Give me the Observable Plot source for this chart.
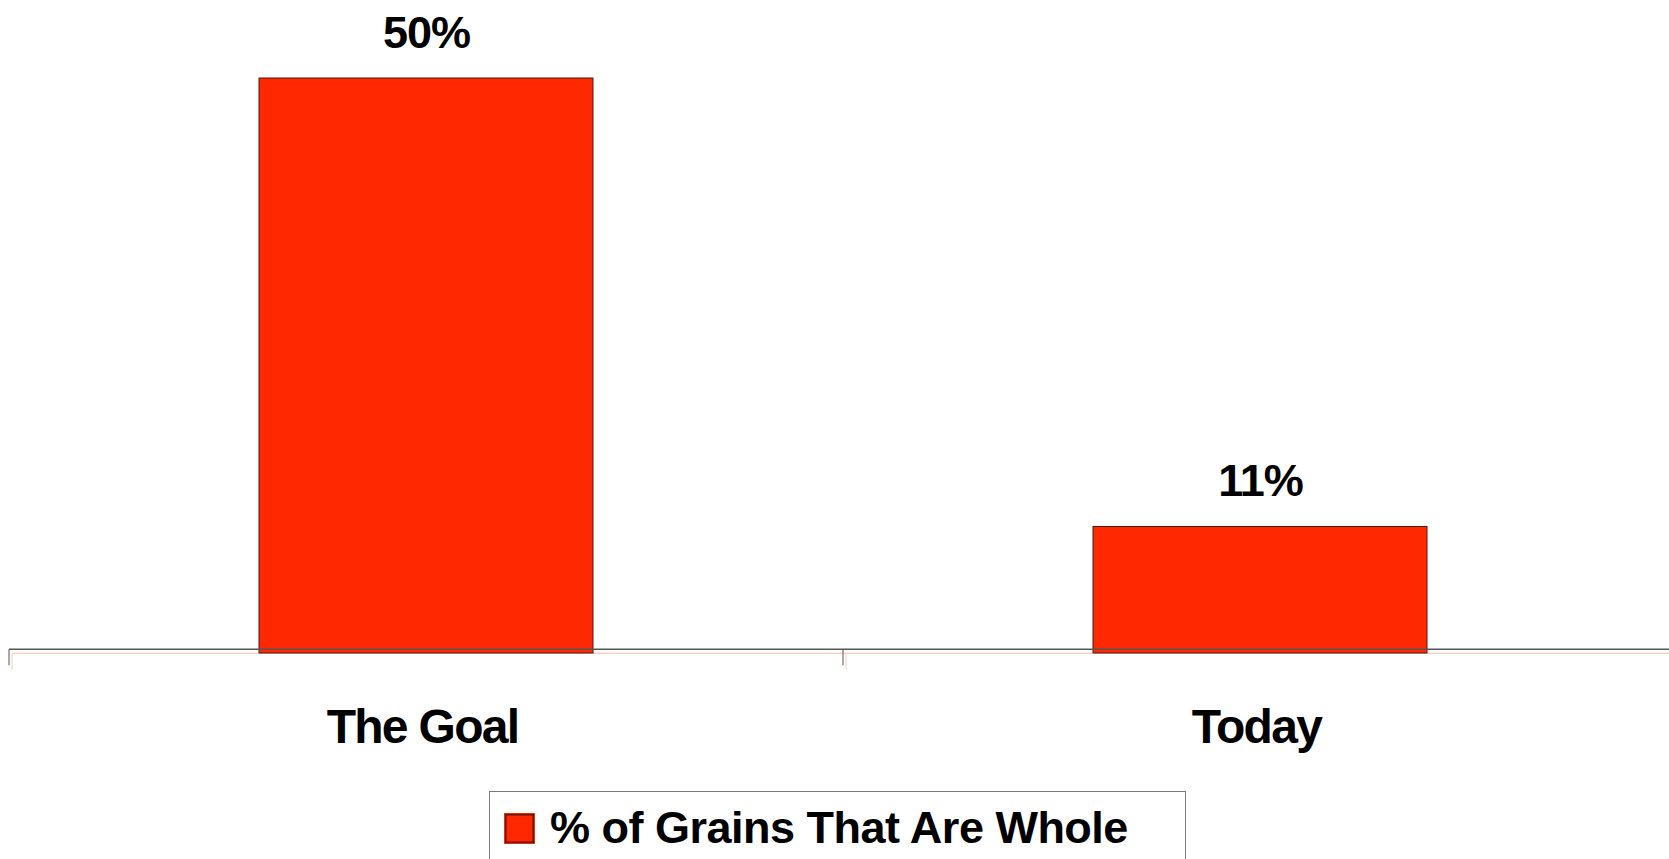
<!DOCTYPE html>
<html>
<head>
<meta charset="utf-8">
<script src="https://cdn.jsdelivr.net/npm/d3@7"></script>
<script src="https://cdn.jsdelivr.net/npm/@observablehq/plot@0.6"></script>
<style>
  html, body { margin: 0; padding: 0; background: #fff; overflow: hidden; }
  #wrap { position: relative; width: 1669px; height: 859px; font-family: "Liberation Sans", Arial, Helvetica, sans-serif; }
  #chart svg { font-family: "Liberation Sans", Arial, Helvetica, sans-serif; }
  #legend {
    position: absolute; left: 489px; top: 791px; width: 697px; height: 100px;
    border: 1.5px solid #7a7a7a; box-sizing: border-box; background: #fff;
  }
  #legend .swatch {
    position: absolute; left: 14px; top: 21px; width: 31px; height: 31px; box-sizing: border-box;
    background: #ff2800; border: 1.5px solid #ff2800; box-shadow: inset 0 0 0 1.5px #5a1a10;
  }
  #legend .label {
    position: absolute; left: 60px; top: 13px; font-size: 45px; line-height: 45px;
    font-weight: bold; letter-spacing: -0.5px; color: #000; white-space: nowrap;
  }
</style>
</head>
<body>
<div id="wrap">
  <div id="chart"></div>
  <div id="legend"><div class="swatch"></div><div class="label"></div></div>
</div>
<script>
// Share of grains eaten as whole grains
const categories = ["The Goal", "Today"];
const values = [50, 11];
const seriesName = "% of Grains That Are Whole";

const data = categories.map((c, i) => ({category: c, value: values[i]}));

const barFill = "#ff2800";
const barStroke = "#4a1a12";

// Category axis drawn as a line with ticks at the band boundaries;
// an offset pale copy gives the soft shadow under it.
function bandAxis({dx = 0, dy = 0, stroke = "#4d4d4d", strokeWidth = 1.5, tickLength = 16} = {}) {
  return (index, scales, values, dims) => {
    const x = scales.x;
    const y0 = scales.y(0);
    const bw = x.bandwidth ? x.bandwidth() : 0;
    const centers = categories.map(c => x(c) + bw / 2);
    const step = centers.length > 1 ? centers[1] - centers[0] : dims.width;
    const bounds = [centers[0] - step / 2, ...centers.map(c => c + step / 2)];
    const g = d3.create("svg:g").attr("transform", `translate(${dx},${dy})`);
    const yl = y0 - 3.7;
    g.append("line")
      .attr("x1", bounds[0]).attr("x2", dims.width + 20)
      .attr("y1", yl).attr("y2", yl)
      .attr("stroke", stroke).attr("stroke-width", strokeWidth);
    for (const b of bounds) {
      g.append("line")
        .attr("x1", b).attr("x2", b)
        .attr("y1", yl).attr("y2", yl + tickLength)
        .attr("stroke", stroke).attr("stroke-width", 1);
    }
    return g.node();
  };
}

const chart = Plot.plot({
  width: 1669,
  height: 791,
  marginTop: 78,
  marginBottom: 138,
  marginLeft: 0,
  marginRight: 0,
  style: {background: "transparent", overflow: "visible"},
  x: {domain: categories, range: [9, 1677], paddingInner: 0.6, paddingOuter: 0.3},
  y: {domain: [0, 50], axis: null},
  marks: [
    bandAxis({dx: 3, dy: 4, stroke: "#ffc9bd", strokeWidth: 1.2}),
    Plot.barY(data, {x: "category", y: "value", fill: barFill, stroke: barStroke, strokeWidth: 1}),
    bandAxis({stroke: "#555555", strokeWidth: 1.5}),
    Plot.text(data, {
      x: "category", y: "value", text: d => `${d.value}%`,
      lineAnchor: "bottom", dy: -31, fontSize: 45, fontWeight: "bold", fill: "#000"
    }),
    Plot.axisX({
      tickSize: 0, tickPadding: 55, dx: -4, fontSize: 48, fontWeight: "bold", fill: "#000", label: null
    })
  ]
});

chart.querySelectorAll("text").forEach(t => t.setAttribute("letter-spacing", "-1"));
chart.querySelectorAll('[aria-label="x-axis tick label"] text').forEach(t => t.setAttribute("letter-spacing", "-1.7"));
document.getElementById("chart").appendChild(chart);
document.querySelector("#legend .label").textContent = seriesName;
</script>
</body>
</html>
